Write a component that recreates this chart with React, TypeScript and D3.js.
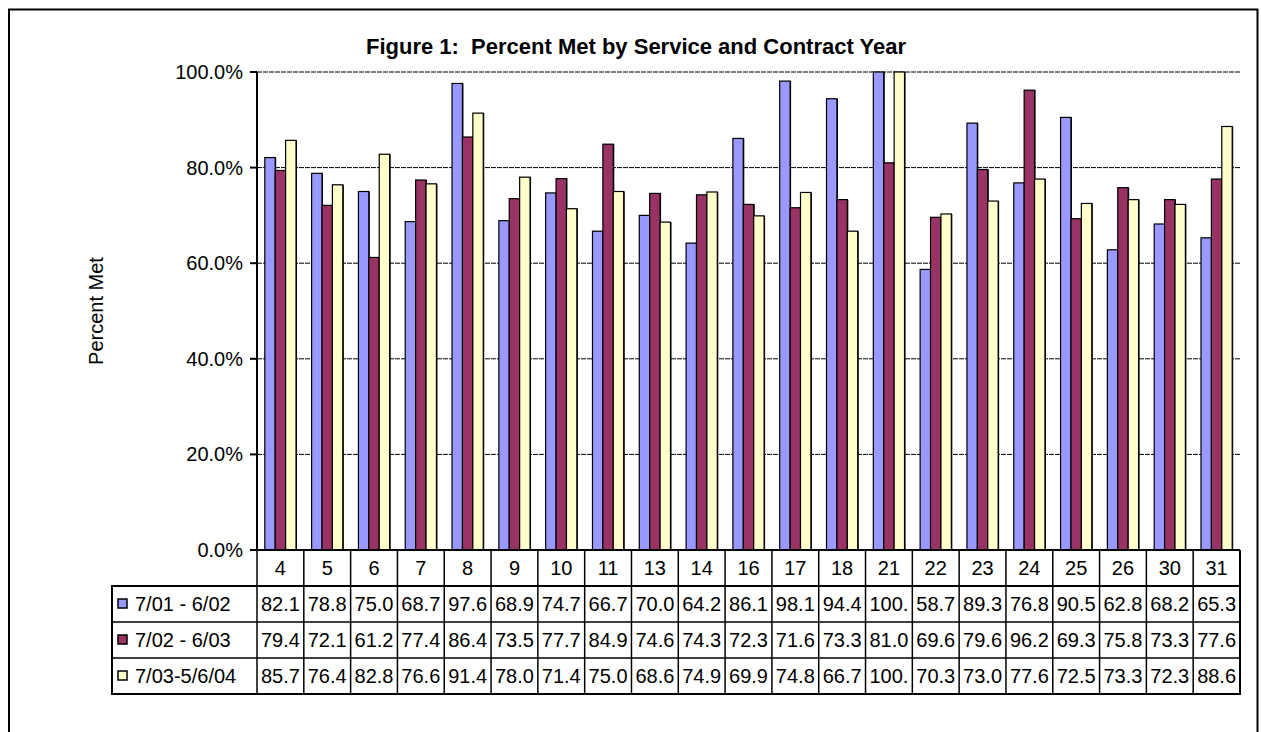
import React from "react";
import * as d3 from "d3";

const categories = ["4","5","6","7","8","9","10","11","13","14","16","17","18","21","22","23","24","25","26","30","31"];
const seriesNames = ["7/01 - 6/02", "7/02 - 6/03", "7/03-5/6/04"];
const series1 = [82.1,78.8,75.0,68.7,97.6,68.9,74.7,66.7,70.0,64.2,86.1,98.1,94.4,100.0,58.7,89.3,76.8,90.5,62.8,68.2,65.3];
const series2 = [79.4,72.1,61.2,77.4,86.4,73.5,77.7,84.9,74.6,74.3,72.3,71.6,73.3,81.0,69.6,79.6,96.2,69.3,75.8,73.3,77.6];
const series3 = [85.7,76.4,82.8,76.6,91.4,78.0,71.4,75.0,68.6,74.9,69.9,74.8,66.7,100.0,70.3,73.0,77.6,72.5,73.3,72.3,88.6];
const seriesColors = ["#9999FF", "#993366", "#FFFFCC"];
const yTicks = [0, 0.2, 0.4, 0.6, 0.8, 1.0];
const title = "Figure 1:  Percent Met by Service and Contract Year";
const yTitle = "Percent Met";

const W = 1261, H = 732;
const FONT = "'Liberation Sans', Arial, Helvetica, sans-serif";

export default function App() {
  const allSeries = [series1, series2, series3];
  const left = 257, right = 1240, top = 72, bottom = 550;
  const x = d3.scaleBand<string>().domain(categories).range([left, right]).paddingInner(0).paddingOuter(0);
  const bw = x.bandwidth();
  const inner = d3.scaleBand<number>().domain([0, 1, 2]).range([0, bw]).paddingOuter(0.75).paddingInner(0);
  const y = d3.scaleLinear().domain([0, 1]).range([bottom, top]);
  const fmt = d3.format(".1%");

  const tableLeft = 112;
  const rowH = 36;
  const catTop = bottom;
  const rowsTop = catTop + rowH;
  const tableBottom = rowsTop + rowH * 3;
  const fs = 20;

  const cellText = (v: number) => {
    const s = v.toFixed(1);
    return s.length > 4 ? s.slice(0, 4) : s;
  };

  return (
    <div style={{ position: "fixed", left: 0, top: 0 }}>
      <svg width={W} height={H} style={{ display: "block", background: "#fff" }} fontFamily={FONT}>
        <rect x={9} y={9.5} width={1248.5} height={740} fill="#fff" stroke="#000" strokeWidth={2} />
        <text x={636} y={54} textAnchor="middle" fontSize={22} fontWeight="bold" fill="#000" style={{ whiteSpace: "pre" }}>{title}</text>

        {/* gridlines */}
        {yTicks.filter(t => t > 0).map(t => (
          <line key={t} x1={left} x2={right} y1={y(t)} y2={y(t)} stroke="#000" strokeWidth={1} strokeDasharray="5,1" />
        ))}

        {/* bars */}
        {allSeries.map((s, si) => (
          <g key={si}>
            {s.map((v, i) => {
              const bx = (x(categories[i]) as number) + (inner(si) as number);
              const by = y(v / 100);
              const bh = y(0) - by;
              return (
                <g key={i}>
                  <rect x={bx + 1} y={by} width={inner.bandwidth()} height={bh} fill="#000" />
                  <rect x={bx} y={by} width={inner.bandwidth()} height={bh} fill={seriesColors[si]} stroke="#000" strokeWidth={1.2} />
                </g>
              );
            })}
          </g>
        ))}

        {/* y axis */}
        <line x1={left} x2={left} y1={top} y2={bottom} stroke="#000" strokeWidth={2} />
        {yTicks.map(t => (
          <g key={t}>
            <line x1={left - 7} x2={left} y1={y(t)} y2={y(t)} stroke="#000" strokeWidth={2} />
            <text x={243} y={y(t)} dy="0.35em" textAnchor="end" fontSize={fs} fill="#000">{fmt(t)}</text>
          </g>
        ))}
        <text transform={`translate(96,${(top + bottom) / 2}) rotate(-90)`} textAnchor="middle" dy="0.35em" fontSize={fs} fill="#000">{yTitle}</text>

        {/* data table */}
        <g fill="none" stroke="#000" strokeWidth={2}>
          <line x1={left} x2={right} y1={catTop} y2={catTop} />
          <rect x={tableLeft} y={rowsTop} width={right - tableLeft} height={rowH * 3} />
          {[1, 2].map(r => (
            <line key={r} x1={tableLeft} x2={right} y1={rowsTop + r * rowH} y2={rowsTop + r * rowH} strokeWidth={1.5} />
          ))}
          {categories.map(c => (
            <line key={c} x1={x(c) as number} x2={x(c) as number} y1={catTop} y2={tableBottom} strokeWidth={1.5} />
          ))}
          <line x1={right} x2={right} y1={catTop} y2={tableBottom} />
        </g>
        {categories.map(c => (
          <text key={c} x={(x(c) as number) + bw / 2} y={catTop + rowH / 2} dy="0.35em" textAnchor="middle" fontSize={fs} fill="#000">{c}</text>
        ))}
        {allSeries.map((s, si) => (
          <g key={si}>
            <rect x={118} y={rowsTop + si * rowH + rowH / 2 - 5} width={9} height={9} fill={seriesColors[si]} stroke="#000" strokeWidth={1.5} />
            <text x={135} y={rowsTop + si * rowH + rowH / 2} dy="0.35em" fontSize={fs} fill="#000">{seriesNames[si]}</text>
            {s.map((v, i) => (
              <text key={i} x={(x(categories[i]) as number) + bw / 2} y={rowsTop + si * rowH + rowH / 2} dy="0.35em" textAnchor="middle" fontSize={fs} fill="#000">{cellText(v)}</text>
            ))}
          </g>
        ))}
      </svg>
    </div>
  );
}
